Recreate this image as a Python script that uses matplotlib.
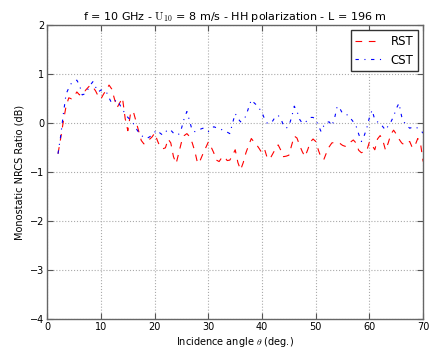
import numpy as np
import matplotlib
matplotlib.use("Agg")
import matplotlib.pyplot as plt

plt.rcParams['mathtext.fontset'] = 'cm'
plt.rcParams['font.family'] = 'DejaVu Sans'

# incidence angles (deg.), 0.5 deg step
theta = np.arange(2.0, 70.5, 0.5)

rst = [-0.62, -0.30, 0.05, 0.35, 0.52, 0.50, 0.55, 0.64, 0.58, 0.66,
       0.66, 0.72, 0.78, 0.74, 0.66, 0.55, 0.50, 0.60, 0.68, 0.78,
       0.70, 0.50, 0.32, 0.42, 0.52, 0.10, -0.15, 0.20, 0.25, 0.05,
       -0.15, -0.35, -0.42, -0.36, -0.33, -0.28, -0.20, -0.35, -0.48, -0.52,
       -0.50, -0.32, -0.40, -0.68, -0.82, -0.60, -0.38, -0.25, -0.21, -0.27,
       -0.40, -0.58, -0.82, -0.75, -0.62, -0.50, -0.38, -0.48, -0.60, -0.75,
       -0.78, -0.70, -0.68, -0.76, -0.75, -0.65, -0.54, -0.80, -0.95, -0.80,
       -0.60, -0.45, -0.31, -0.38, -0.44, -0.52, -0.61, -0.54, -0.72, -0.72,
       -0.62, -0.52, -0.44, -0.55, -0.68, -0.67, -0.65, -0.45, -0.26, -0.30,
       -0.45, -0.58, -0.68, -0.54, -0.38, -0.32, -0.37, -0.55, -0.70, -0.74,
       -0.60, -0.48, -0.40, -0.39, -0.40, -0.41, -0.45, -0.47, -0.41, -0.38,
       -0.34, -0.40, -0.55, -0.60, -0.58, -0.56, -0.38, -0.45, -0.54, -0.32,
       -0.25, -0.35, -0.55, -0.40, -0.22, -0.14, -0.22, -0.32, -0.40, -0.44,
       -0.40, -0.37, -0.50, -0.45, -0.31, -0.40, -0.78]

cst = [-0.62, -0.25, 0.20, 0.60, 0.72, 0.82, 0.86, 0.88, 0.78, 0.58,
       0.60, 0.68, 0.78, 0.85, 0.74, 0.64, 0.68, 0.66, 0.64, 0.52,
       0.41, 0.45, 0.48, 0.38, 0.28, 0.20, 0.12, 0.07, 0.00, -0.10,
       -0.18, -0.25, -0.28, -0.31, -0.28, -0.24, -0.18, -0.14, -0.20, -0.24,
       -0.18, -0.12, -0.14, -0.20, -0.24, -0.22, -0.10, 0.10, 0.24, 0.05,
       -0.15, -0.17, -0.14, -0.12, -0.10, -0.13, -0.17, -0.12, -0.07, -0.09,
       -0.10, -0.13, -0.16, -0.18, -0.21, 0.00, 0.20, 0.10, 0.03, 0.07,
       0.15, 0.32, 0.48, 0.42, 0.37, 0.30, 0.22, 0.08, 0.00, 0.00,
       0.05, 0.14, 0.16, 0.10, -0.05, -0.10, -0.05, 0.12, 0.35, 0.25,
       0.08, 0.00, 0.02, 0.06, 0.12, 0.12, 0.08, -0.05, -0.17, -0.05,
       0.02, 0.03, -0.05, 0.10, 0.35, 0.30, 0.20, 0.18, 0.17, 0.10,
       0.03, -0.05, -0.22, -0.37, -0.26, -0.10, 0.12, 0.27, 0.07, 0.03,
       0.00, -0.07, -0.14, -0.05, 0.03, 0.14, 0.30, 0.41, 0.14, 0.02,
       -0.05, -0.10, -0.08, -0.07, -0.10, -0.14, -0.20]

fig = plt.figure(figsize=(4.3, 3.51), dpi=100)
ax = fig.add_axes([0.11, 0.09, 0.874, 0.838])

ax.plot(theta, rst, color='red', lw=0.8, dashes=(6, 6), label='RST')
ax.plot(theta, cst, color='blue', lw=0.8, dashes=(3, 5, 1, 5), label='CST')

ax.set_xlim(0, 70)
ax.set_ylim(-4, 2)
ax.set_xticks(np.arange(0, 71, 10))
ax.set_yticks(np.arange(-4, 3, 1))
ax.grid(True, color='#aaaaaa', linestyle=':', linewidth=0.8)
ax.tick_params(direction='in', labelsize=7, top=True, right=True, length=4, color='#555555', pad=2)
for s in ax.spines.values():
    s.set_color('#666666')
    s.set_linewidth(1.0)

ax.set_xlabel(r"Incidence angle $\theta$ (deg.)", fontsize=7, labelpad=2)
ax.set_ylabel("Monostatic NRCS Ratio (dB)", fontsize=7, labelpad=4)
ax.set_title(r"f = 10 GHz - $\mathrm{U}_{10}$ = 8 m/s - HH polarization - L = 196 m", fontsize=8, pad=4)

leg = ax.legend(loc='upper right', fontsize=8.5, fancybox=False, framealpha=1,
                borderaxespad=0.4, handlelength=2.2)
leg.get_frame().set_edgecolor('#333333')
leg.get_frame().set_linewidth(1.0)

fig.savefig("out.png", dpi=100)
